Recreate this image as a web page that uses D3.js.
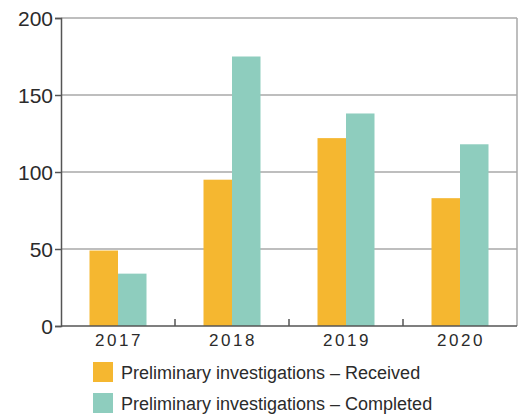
<!DOCTYPE html>
<html>
<head>
<meta charset="utf-8">
<script src="https://cdn.jsdelivr.net/npm/d3@7"></script>
<style>
  html, body { margin: 0; padding: 0; background: #fff; }
  svg { display: block; }
  text { font-family: "Liberation Sans", Arial, Helvetica, sans-serif; fill: #2b2b2b; }
</style>
</head>
<body>
<svg id="chart" width="518" height="414"></svg>
<script>
// Preliminary investigations per year
const years = ["2017", "2018", "2019", "2020"];
const received = [49, 95, 122, 83];
const completed = [34, 175, 138, 118];
const yTicks = [0, 50, 100, 150, 200];
const seriesNames = ["Preliminary investigations \u2013 Received", "Preliminary investigations \u2013 Completed"];
const seriesColors = ["#F5B730", "#8ECDBE"];

const svg = d3.select("#chart");
const plotLeft = 61, plotRight = 517, plotTop = 18, plotBottom = 326;

const x = d3.scaleBand().domain(years).range([plotLeft, plotRight]).paddingInner(0.5).paddingOuter(0.25);
const x1 = d3.scaleBand().domain([0, 1]).range([0, x.bandwidth()]);
const y = d3.scaleLinear().domain([0, 200]).range([plotBottom, plotTop]);

// horizontal gridlines
svg.append("g")
  .selectAll("line")
  .data(yTicks.filter(d => d > 0))
  .join("line")
  .attr("x1", plotLeft).attr("x2", plotRight)
  .attr("y1", d => y(d)).attr("y2", d => y(d))
  .attr("stroke", "#a9a9a9").attr("stroke-width", 1.5);

// right border
svg.append("line")
  .attr("x1", plotRight).attr("x2", plotRight)
  .attr("y1", plotTop).attr("y2", plotBottom)
  .attr("stroke", "#a9a9a9").attr("stroke-width", 1.5);

// bars
const rows = years.map((yr, i) => ({ yr, vals: [received[i], completed[i]] }));
svg.append("g")
  .selectAll("g")
  .data(rows)
  .join("g")
  .attr("transform", d => `translate(${x(d.yr)},0)`)
  .selectAll("rect")
  .data(d => d.vals.map((v, k) => ({ v, k })))
  .join("rect")
  .attr("x", d => x1(d.k))
  .attr("width", x1.bandwidth())
  .attr("y", d => y(d.v))
  .attr("height", d => y(0) - y(d.v))
  .attr("fill", d => seriesColors[d.k]);

// y axis
const yAxis = svg.append("g")
  .attr("transform", `translate(${plotLeft},0)`)
  .call(d3.axisLeft(y).tickValues(yTicks).tickSize(6).tickPadding(2));
yAxis.select(".domain").attr("stroke", "#555").attr("stroke-width", 1.5);
yAxis.selectAll(".tick line").attr("stroke", "#555").attr("stroke-width", 1.5);
yAxis.selectAll(".tick text").style("font-size", "21px").attr("fill", "#2b2b2b").attr("dy", "0.36em");

// x axis: baseline, separator ticks between years, year labels
const xAxis = svg.append("g").attr("transform", `translate(0,${plotBottom})`);
xAxis.append("line")
  .attr("x1", plotLeft).attr("x2", plotRight)
  .attr("stroke", "#555").attr("stroke-width", 1.5);
const sepX = d => x(d) + x.bandwidth() / 2 - x.step() / 2;
xAxis.selectAll("line.sep")
  .data(years.slice(1))
  .join("line")
  .attr("class", "sep")
  .attr("x1", sepX).attr("x2", sepX)
  .attr("y1", 0).attr("y2", -7)
  .attr("stroke", "#555").attr("stroke-width", 1.5);
xAxis.selectAll("text")
  .data(years)
  .join("text")
  .attr("x", d => x(d) + x.bandwidth() / 2 + 1)
  .attr("y", 20)
  .attr("text-anchor", "middle")
  .style("font-size", "17px")
  .style("letter-spacing", "2.5px")
  .text(d => d);

// legend
const legend = svg.append("g");
seriesNames.forEach((name, i) => {
  const g = legend.append("g").attr("transform", `translate(93,${362 + i * 31})`);
  g.append("rect").attr("width", 20).attr("height", 20).attr("fill", seriesColors[i]);
  g.append("text").attr("x", 28).attr("y", 16.5).style("font-size", "18px").text(name);
});
</script>
</body>
</html>
